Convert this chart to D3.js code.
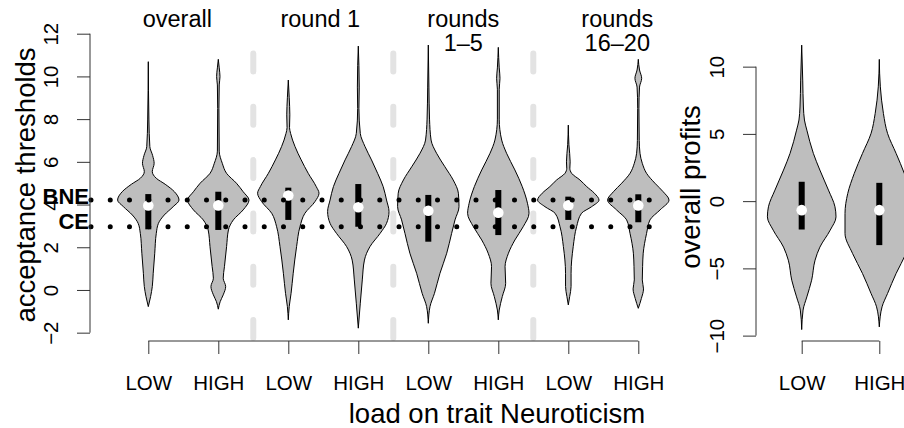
<!DOCTYPE html>
<html><head><meta charset="utf-8">
<script src="https://cdn.jsdelivr.net/npm/d3@7"></script>
<style>
body{margin:0;background:#fff}
svg{display:block;font-family:"Liberation Sans",Arial,Helvetica,sans-serif}
</style>
</head><body>
<svg id="chart" width="904" height="428"></svg>
<script>
// ---------- DATA ----------
const groupTitles = [["overall"], ["round 1"], ["rounds", "1–5"], ["rounds", "16–20"]];
const levelLabels = ["LOW", "HIGH"];
const xTitle = "load on trait Neuroticism";
const yTitleThr = "acceptance thresholds";
const yTitleProfit = "overall profits";

const thrTicks = [-2, 0, 2, 4, 6, 8, 10, 12];
const thrQ1 = [2.84, 2.81, 3.28, 2.96, 2.26, 2.57, 3.28, 3.17];
const thrQ3 = [4.49, 4.60, 4.79, 4.96, 4.45, 4.68, 4.37, 4.48];
const thrMedian = [3.96, 3.96, 4.42, 3.87, 3.71, 3.62, 3.96, 3.96];
// density profiles: [value, relative density]
const thrDensity = [
  [[10.69,0],[7.96,0.02],[6.71,0.05],[6.3,0.14],[5.93,0.19],[5.54,0.13],[5.23,0.26],[4.95,0.55],[4.6,0.85],[4.21,1],[3.9,0.81],[3.51,0.52],[3.12,0.33],[2.65,0.26],[1.72,0.21],[0.78,0.16],[0.16,0.13],[-0.31,0.075],[-0.78,0]],
  [[10.8,0],[10.4,0.03],[9.99,0.055],[9.6,0.03],[8.5,0.02],[6.5,0.03],[5.93,0.13],[5.46,0.27],[5.0,0.59],[4.6,0.81],[4.21,1],[3.75,0.81],[3.28,0.49],[2.81,0.33],[2.03,0.27],[1.09,0.2],[0.55,0.16],[0.16,0.24],[-0.23,0.16],[-0.55,0.06],[-0.9,0]],
  [[9.83,0],[9.0,0.03],[8.2,0.05],[7.6,0.04],[7.33,0.075],[6.71,0.22],[6.09,0.42],[5.46,0.65],[4.84,0.91],[4.53,1],[4.14,0.87],[3.59,0.54],[2.96,0.38],[2.03,0.27],[0.78,0.16],[-0.16,0.09],[-0.78,0.03],[-1.4,0]],
  [[11.42,0],[10.5,0.02],[9.5,0.03],[8.5,0.02],[7.33,0.065],[6.71,0.22],[6.09,0.43],[5.46,0.63],[4.84,0.81],[4.21,0.92],[3.67,1],[3.12,0.92],[2.65,0.71],[2.03,0.38],[1.4,0.2],[0.47,0.13],[-0.62,0.065],[-1.79,0]],
  [[11.47,0],[9.5,0.02],[8.0,0.04],[7.02,0.09],[6.4,0.27],[5.77,0.54],[5.15,0.81],[4.53,0.98],[3.9,1],[3.28,0.87],[2.65,0.76],[1.72,0.6],[0.78,0.38],[-0.16,0.2],[-0.78,0.055],[-1.56,0]],
  [[11.36,0],[10.4,0.03],[9.91,0.055],[9.4,0.03],[8.0,0.03],[7.02,0.11],[6.4,0.27],[5.62,0.54],[4.84,0.78],[4.06,0.95],[3.59,1],[2.96,0.81],[2.34,0.54],[1.72,0.33],[1.09,0.22],[0.31,0.24],[-0.31,0.13],[-0.94,0.03],[-1.4,0]],
  [[7.72,0],[6.8,0.02],[6.0,0.06],[5.7,0.05],[5.46,0.11],[5.15,0.38],[4.84,0.6],[4.53,0.85],[4.21,1],[3.9,0.76],[3.59,0.43],[2.96,0.27],[2.03,0.16],[0.78,0.09],[0.16,0.09],[-0.31,0.045],[-0.7,0]],
  [[10.8,0],[10.3,0.04],[9.91,0.11],[9.5,0.04],[8.5,0.02],[7.0,0.03],[6.4,0.055],[5.93,0.13],[5.46,0.27],[5.0,0.54],[4.6,0.81],[4.21,1],[3.75,0.71],[3.28,0.38],[2.65,0.27],[1.72,0.16],[1.09,0.14],[0.47,0.13],[0.05,0.17],[-0.4,0.1],[-0.86,0]]
];
const refLabels = ["BNE", "CE"];
const refValues = [4.21, 2.96];

const profitTicks = [-10, -5, 0, 5, 10];
const profitQ1 = [-2.11, -3.27];
const profitQ3 = [1.44, 1.36];
const profitMedian = [-0.67, -0.67];
const profitDensity = [
  [[11.6,0],[9,0.03],[7,0.05],[6.03,0.08],[5.28,0.15],[3.55,0.34],[2.31,0.53],[0.82,0.78],[-0.42,0.97],[-1.17,1],[-2.16,0.83],[-3.42,0.53],[-4.39,0.39],[-5.88,0.29],[-7.12,0.15],[-8.1,0.04],[-9.55,0]],
  [[10.54,0],[8.5,0.03],[6.52,0.12],[5.04,0.24],[3.55,0.49],[2.06,0.73],[0.57,0.92],[-0.92,1],[-2.4,1],[-3.89,0.78],[-5.38,0.49],[-6.87,0.24],[-7.86,0.08],[-9.35,0]]
];

// ---------- LAYOUT ----------
const plotTop = 29, plotBottom = 341;
const leftAxisX = 90, rightAxisX = 756;
const tickLen = 13;
const titleShift = [-6, -3, 0, 14];
const fs = {tick: 20.5, title: 23.5, lab: 27.5, ref: 22};
const violinFill = "#bebebe";

const svg = d3.select("#chart");

const yThr = d3.scaleLinear().domain([-2.39, 12.22]).range([plotBottom, plotTop]);
const xThr = d3.scaleLinear().domain([1, 8]).range([148.3, 638.3]);
const wThr = d3.scaleLinear().domain([0, 1]).range([0, 30.7]);
const yPro = d3.scaleLinear().domain([-10.4, 12.8]).range([plotBottom, plotTop]);
const xPro = d3.scaleLinear().domain([1, 2]).range([801.7, 879.3]);
const wPro = d3.scaleLinear().domain([0, 1]).range([0, 34.3]);

const fmt = d => d < 0 ? "\u2212" + Math.abs(d) : String(d);

// group separators (drawn first, below everything)
[2.5, 4.5, 6.5].forEach(v => {
  svg.append("line")
    .attr("x1", xThr(v)).attr("x2", xThr(v))
    .attr("y1", plotBottom - 3).attr("y2", plotTop)
    .attr("stroke", "#e3e3e3").attr("stroke-width", 6)
    .attr("stroke-linecap", "round")
    .attr("stroke-dasharray", "18 35.3");
});

function drawViolins(dens, q1, q3, med, xs, ys, ws) {
  dens.forEach((prof, i) => {
    const cx = xs(i + 1);
    const area = d3.area()
      .curve(d3.curveMonotoneY)
      .y(d => ys(d[0]))
      .x0(d => cx - ws(d[1]))
      .x1(d => cx + ws(d[1]));
    svg.append("path").attr("d", area(prof))
      .attr("fill", violinFill).attr("stroke", "#000").attr("stroke-width", 1);
    svg.append("rect")
      .attr("x", cx - 3).attr("width", 6)
      .attr("y", ys(q3[i])).attr("height", ys(q1[i]) - ys(q3[i]))
      .attr("fill", "#000");
    svg.append("circle").attr("cx", cx).attr("cy", ys(med[i])).attr("r", 5.3).attr("fill", "#fff");
  });
}
drawViolins(thrDensity, thrQ1, thrQ3, thrMedian, xThr, yThr, wThr);
drawViolins(profitDensity, profitQ1, profitQ3, profitMedian, xPro, yPro, wPro);

// reference dotted lines
refValues.forEach((v, i) => {
  svg.append("line")
    .attr("x1", leftAxisX + 1).attr("x2", 668)
    .attr("y1", yThr(v)).attr("y2", yThr(v))
    .attr("stroke", "#000").attr("stroke-width", 5)
    .attr("stroke-linecap", "round")
    .attr("stroke-dasharray", "0 19.25");
  svg.append("text")
    .attr("x", leftAxisX - 1).attr("y", yThr(v) + (i === 0 ? 3.5 : 2))
    .attr("text-anchor", "end").attr("font-weight", "bold")
    .attr("font-size", fs.ref).text(refLabels[i]);
});

// y axes
function yAxis(scale, ticks, x) {
  const g = svg.append("g").attr("transform", `translate(${x},0)`);
  g.call(d3.axisLeft(scale).tickValues(ticks).tickFormat(fmt).tickSize(tickLen).tickSizeOuter(0));
  g.select(".domain").remove();
  g.append("line").attr("x1", 0).attr("x2", 0)
    .attr("y1", scale(ticks[0])).attr("y2", scale(ticks[ticks.length - 1]))
    .attr("stroke", "#333");
  g.selectAll(".tick line").attr("stroke", "#333");
  g.selectAll(".tick text")
    .attr("x", null).attr("dy", null).attr("y", null)
    .attr("text-anchor", "middle")
    .attr("transform", "translate(-32,0) rotate(-90)")
    .attr("font-size", fs.tick).attr("fill", "#000");
  g.attr("font-family", null);
}
yAxis(yThr, thrTicks, leftAxisX);
yAxis(yPro, profitTicks, rightAxisX);

// x axes
function xAxis(scale, n) {
  const vals = d3.range(1, n + 1);
  const g = svg.append("g").attr("transform", `translate(0,${plotBottom})`);
  g.call(d3.axisBottom(scale).tickValues(vals).tickFormat(d => levelLabels[(d - 1) % 2]).tickSize(tickLen).tickSizeOuter(0));
  g.select(".domain").remove();
  g.append("line").attr("x1", scale(1)).attr("x2", scale(n)).attr("y1", 0).attr("y2", 0).attr("stroke", "#333");
  g.selectAll(".tick line").attr("stroke", "#333");
  g.selectAll(".tick text").attr("y", 49).attr("dy", null)
    .attr("font-size", fs.tick).attr("fill", "#000");
  g.attr("font-family", null);
}
xAxis(xThr, 8);
xAxis(xPro, 2);

// group titles
groupTitles.forEach((lines, i) => {
  const cx = xThr(2 * i + 1.5) + titleShift[i];
  const t = svg.append("text").attr("text-anchor", "middle").attr("font-size", fs.title);
  lines.forEach((s, j) => t.append("tspan").attr("x", cx).attr("y", 27 + 24 * j).text(s));
});

// axis titles
svg.append("text").attr("text-anchor", "middle").attr("font-size", fs.lab)
  .attr("x", 497).attr("y", 423).text(xTitle);
svg.append("text").attr("text-anchor", "middle").attr("font-size", fs.lab)
  .attr("transform", `translate(35,${(plotTop + plotBottom) / 2}) rotate(-90)`).text(yTitleThr);
svg.append("text").attr("text-anchor", "middle").attr("font-size", fs.lab)
  .attr("transform", `translate(700,${(plotTop + plotBottom) / 2 + 2}) rotate(-90)`).text(yTitleProfit);
</script>
</body></html>
